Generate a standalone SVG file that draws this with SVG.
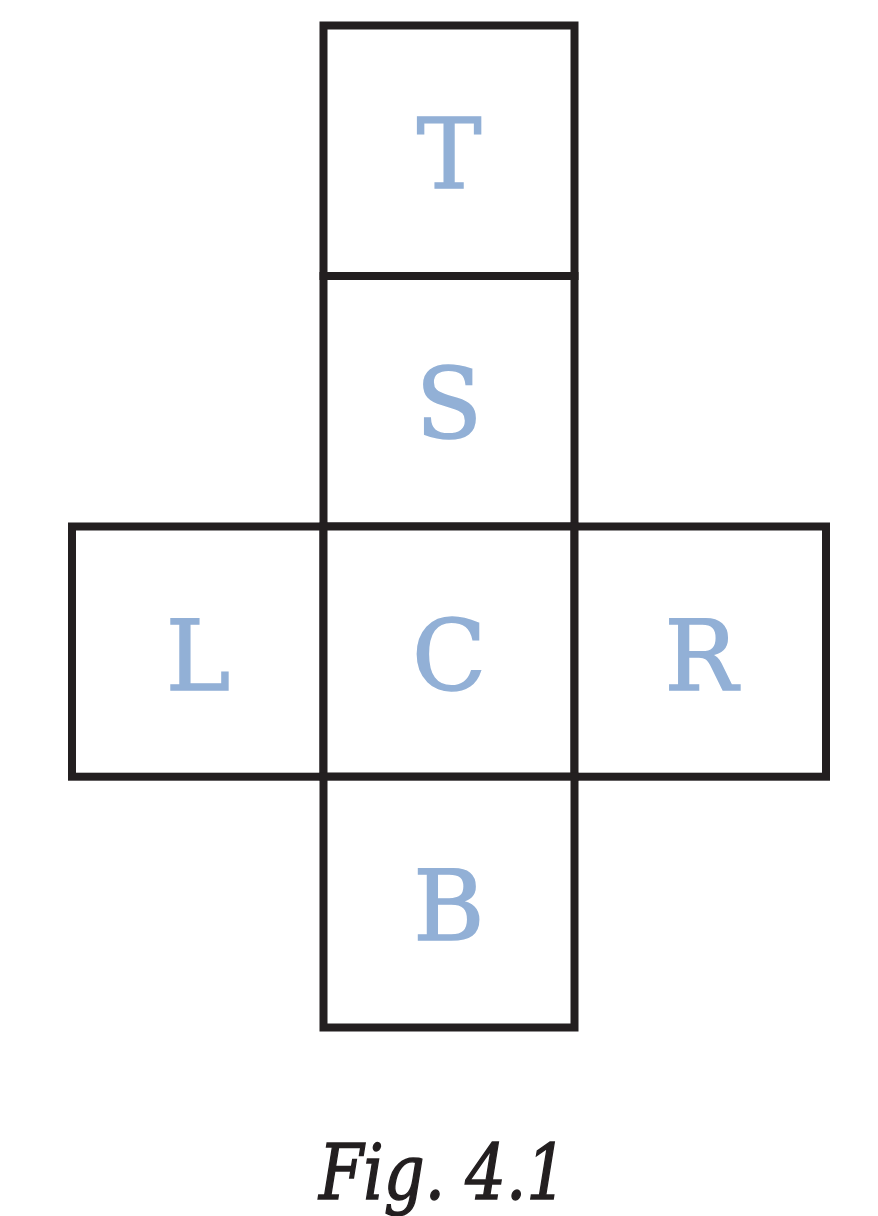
<svg xmlns="http://www.w3.org/2000/svg" width="878" height="1216" viewBox="0 0 878 1216">
<style>
.face{fill:#ffffff;stroke:#231f20;stroke-width:8}
.lbl{font-family:"DejaVu Serif","Liberation Serif",serif;font-size:97px;fill:#92b0d6;stroke:#92b0d6;stroke-width:1.6;text-anchor:middle}
.cap{font-family:"DejaVu Serif Condensed","DejaVu Serif",serif;font-style:italic;font-size:77px;fill:#231f20;stroke:#231f20;stroke-width:1.4;text-anchor:middle}
</style>
<rect width="878" height="1216" fill="#ffffff"/>
<g id="T"><rect class="face" x="323.5" y="25.5" width="251" height="250.5"/><text class="lbl" x="449" y="188">T</text></g>
<g id="S"><rect class="face" x="323.5" y="276" width="251" height="250.5"/><text class="lbl" x="449" y="438">S</text></g>
<g id="L"><rect class="face" x="72" y="526.5" width="251.5" height="250.2"/><text class="lbl" x="198" y="690">L</text></g>
<g id="C"><rect class="face" x="323.5" y="526.5" width="251" height="250.2"/><text class="lbl" x="449" y="690">C</text></g>
<g id="R"><rect class="face" x="574.5" y="526.5" width="251.5" height="250.2"/><text class="lbl" x="701" y="690">R</text></g>
<g id="B"><rect class="face" x="323.5" y="776.7" width="251" height="250.8"/><text class="lbl" x="449" y="940">B</text></g>
<g id="connectors"></g>
<text class="cap" x="443" y="1199" textLength="248" lengthAdjust="spacingAndGlyphs">Fig. 4.1</text>
</svg>
